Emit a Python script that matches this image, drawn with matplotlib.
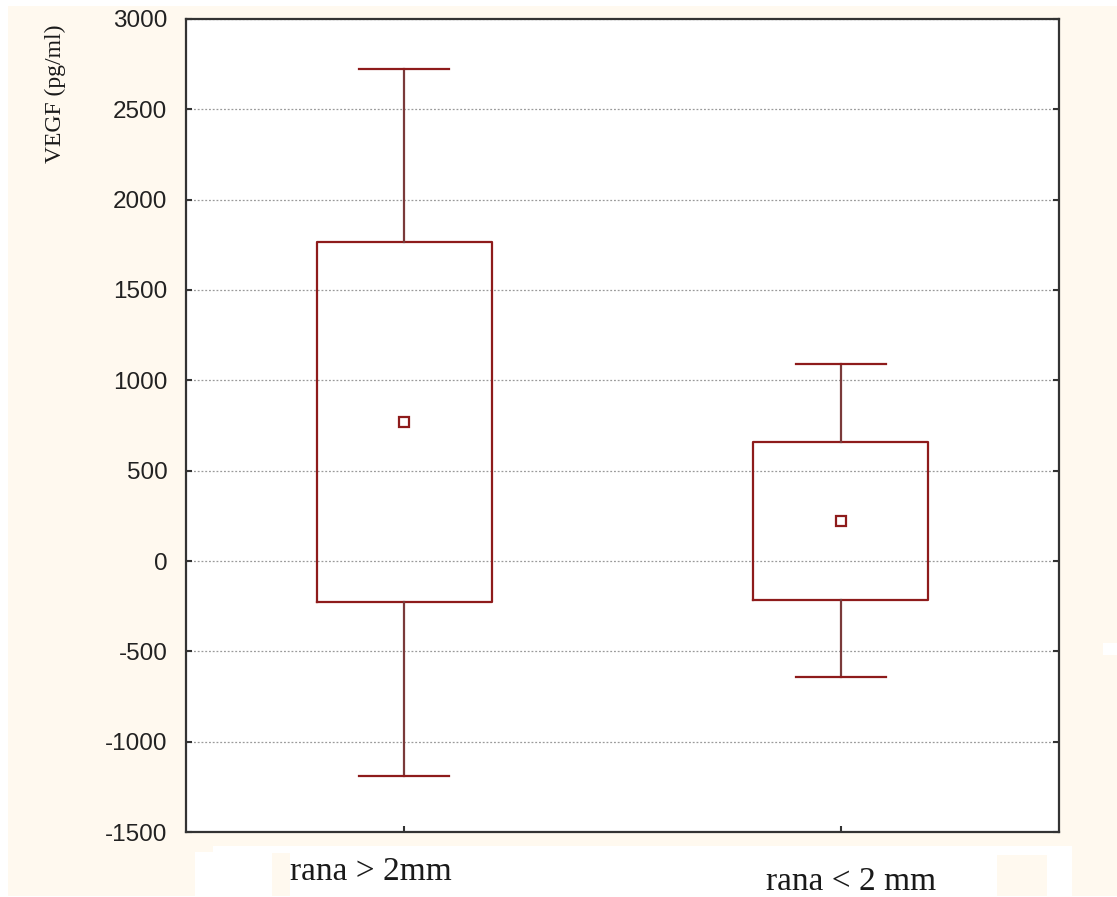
import matplotlib
matplotlib.use("Agg")
import matplotlib.pyplot as plt
from matplotlib.patches import Rectangle

# dane (VEGF, pg/ml)
groups = ["rana > 2mm", "rana < 2 mm"]
means = [771, 223]
box_low = [-226, -216]
box_high = [1764, 656]
whisk_low = [-1190, -642]
whisk_high = [2723, 1088]
yticks = [-1500, -1000, -500, 0, 500, 1000, 1500, 2000, 2500, 3000]

W, H = 1117, 897
CREAM = "#FFF9EF"
RED = "#8E1B1B"

fig = plt.figure(figsize=(W / 100, H / 100), dpi=100, facecolor="white")


def px_rect(x0, y0, x1, y1, color):
    # prostokat w pikselach (y od gory)
    r = Rectangle((x0 / W, 1 - y1 / H), (x1 - x0) / W, (y1 - y0) / H,
                  transform=fig.transFigure, facecolor=color,
                  edgecolor="none", zorder=-5)
    fig.add_artist(r)


# tlo jak na zrzucie ekranu
px_rect(8, 6, W, 896, CREAM)
px_rect(195, 852, 1072, H, "white")
px_rect(213, 846, 1072, 852, "white")
px_rect(272, 853, 290, 896, CREAM)
px_rect(997, 855, 1047, 896, CREAM)
px_rect(1103, 643, W, 655, "white")

ax = fig.add_axes([186 / W, 1 - 832 / H, (1059 - 186) / W, (832 - 19) / H])
ax.set_facecolor("white")

stats = []
for i in range(len(groups)):
    stats.append({
        "med": means[i], "q1": box_low[i], "q3": box_high[i],
        "whislo": whisk_low[i], "whishi": whisk_high[i],
        "mean": means[i], "fliers": [],
    })

ax.bxp(stats, positions=[1, 2], widths=0.4, capwidths=0.206,
       showmeans=True, showfliers=False, patch_artist=False,
       boxprops=dict(color=RED, linewidth=1.6),
       whiskerprops=dict(color="#7a3a3a", linewidth=1.6),
       capprops=dict(color=RED, linewidth=1.6),
       medianprops=dict(visible=False),
       meanprops=dict(marker="s", markersize=7, markerfacecolor="white",
                      markeredgecolor=RED, markeredgewidth=1.6),
       zorder=3)

ax.set_xlim(0.5, 2.5)
ax.set_ylim(-1500, 3000)
ax.set_yticks(yticks)
ax.set_yticklabels([str(v) for v in yticks], fontsize=17.5,
                   family="Liberation Sans", color="#222222")
ax.set_xticks([1, 2])
ax.set_xticklabels(["", ""])

ax.yaxis.grid(True, linestyle=(0, (1.5, 1.5)), color="#9a9a9a", linewidth=0.9)
ax.set_axisbelow(True)

ax.tick_params(axis="y", direction="in", length=4, width=1.5, color="#333333",
               right=True, pad=13.5)
ax.tick_params(axis="x", direction="in", length=4, width=1.5, color="#333333")
for s in ax.spines.values():
    s.set_color("#333333")
    s.set_linewidth(1.6)

# opis osi Y
fig.text(55 / W, 1 - 94 / H, "VEGF (pg/ml)", rotation=90, ha="center",
         va="center", fontsize=17, family="Liberation Serif", color="#1a1a1a")

# podpisy grup
fig.text(371 / W, 1 - 880 / H, groups[0], ha="center", va="baseline",
         fontsize=24, family="Liberation Serif", color="#1a1a1a")
fig.text(851 / W, 1 - 890 / H, groups[1], ha="center", va="baseline",
         fontsize=24, family="Liberation Serif", color="#1a1a1a")

fig.savefig("out.png", dpi=100, facecolor=fig.get_facecolor())
